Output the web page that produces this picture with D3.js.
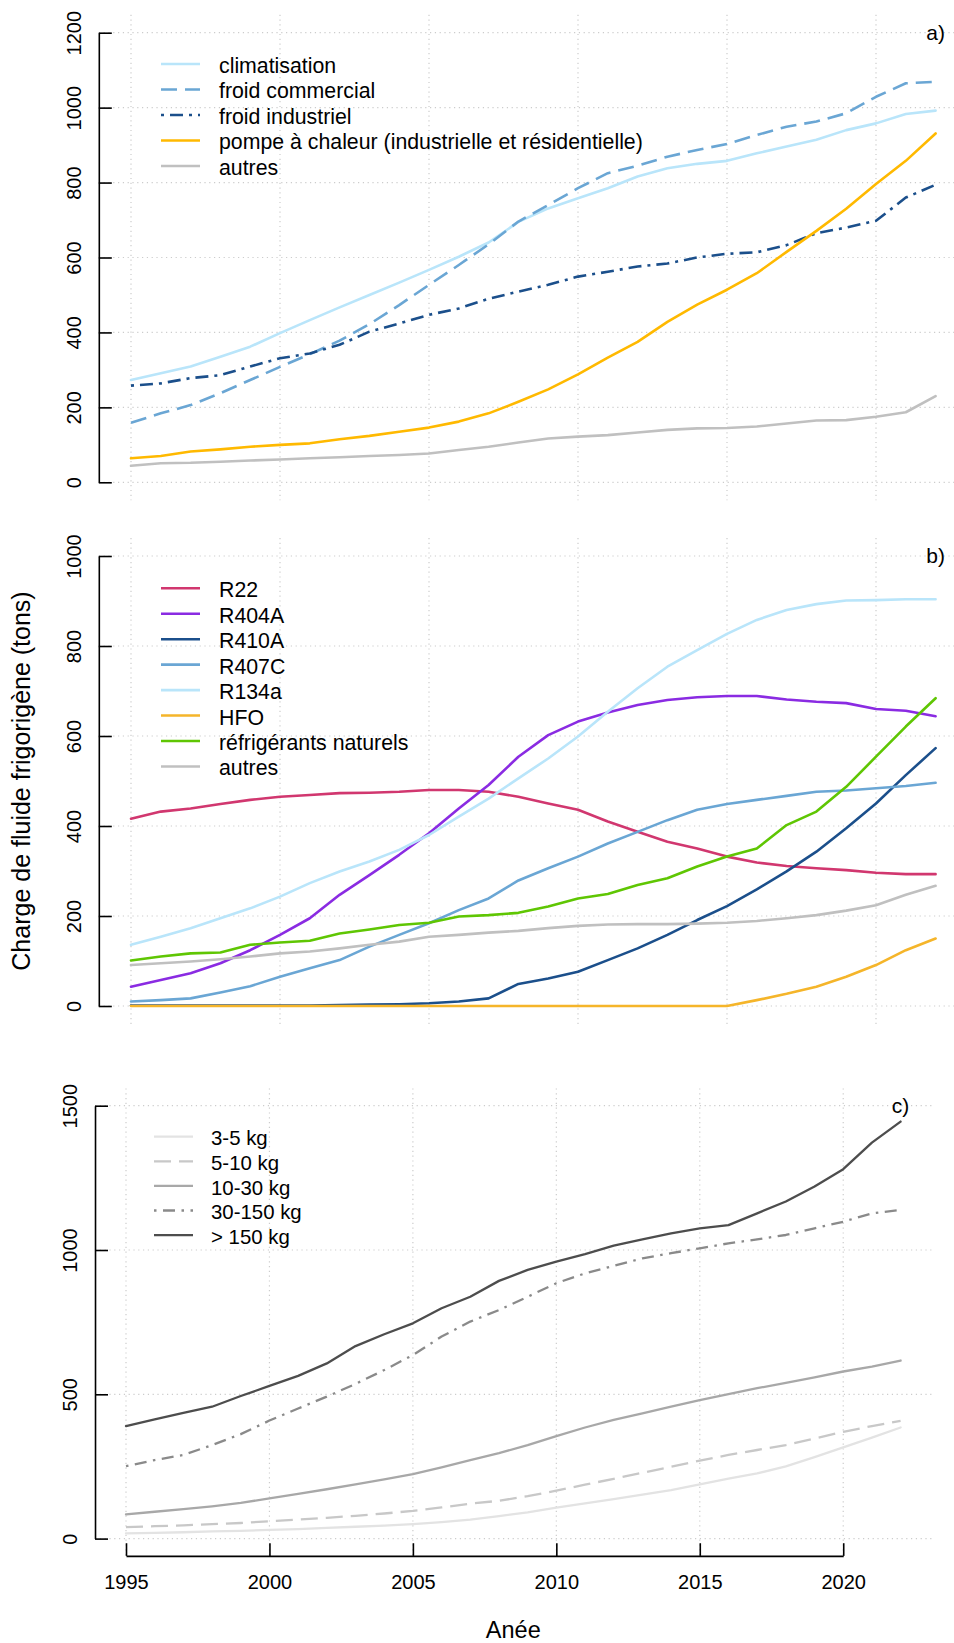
<!DOCTYPE html>
<html>
<head>
<meta charset="utf-8">
<script src="https://cdn.jsdelivr.net/npm/d3@7"></script>
<style>
  body { margin: 0; background: #fff; }
  svg { display: block; }
</style>
</head>
<body>
<div id="chart"></div>
<script>
// years on the x axis
const years = [1995, 1996, 1997, 1998, 1999, 2000, 2001, 2002, 2003, 2004, 2005, 2006, 2007, 2008,
  2009, 2010, 2011, 2012, 2013, 2014, 2015, 2016, 2017, 2018, 2019, 2020, 2021, 2022];

// a) by use
const usageLabels = ["climatisation", "froid commercial", "froid industriel",
  "pompe à chaleur (industrielle et résidentielle)", "autres"];
const climatisation = [273, 291, 309, 335, 362, 398, 433, 467, 500, 533, 567, 602, 640, 695, 731, 758, 785, 816, 838, 850, 858, 878, 896, 914, 940, 958, 983, 992];
const froidCommercial = [159, 184, 206, 238, 273, 308, 342, 378, 422, 473, 527, 580, 635, 696, 740, 785, 825, 845, 869, 887, 903, 927, 949, 963, 985, 1029, 1065, 1069];
const froidIndustriel = [258, 264, 278, 286, 309, 331, 344, 367, 402, 424, 447, 464, 490, 509, 527, 549, 562, 576, 584, 600, 610, 614, 633, 665, 680, 698, 760, 794];
const pompeAChaleur = [64, 70, 82, 88, 95, 100, 104, 115, 124, 135, 146, 162, 184, 215, 248, 288, 333, 375, 428, 474, 514, 558, 615, 671, 730, 796, 858, 931];
const autresUsage = [44, 51, 52, 55, 58, 61, 64, 67, 70, 73, 77, 86, 95, 106, 117, 122, 126, 133, 140, 144, 145, 149, 157, 165, 166, 175, 187, 230];

// b) by refrigerant
const fluideLabels = ["R22", "R404A", "R410A", "R407C", "R134a", "HFO", "réfrigérants naturels", "autres"];
const r22 = [416, 432, 439, 449, 458, 465, 469, 473, 474, 476, 480, 480, 476, 465, 450, 436, 410, 387, 365, 350, 332, 319, 311, 306, 302, 296, 293, 293];
const r404a = [43, 58, 73, 95, 124, 158, 195, 247, 291, 336, 384, 439, 491, 554, 602, 632, 652, 669, 680, 686, 689, 689, 681, 676, 673, 660, 656, 644];
const r410a = [1, 1, 1, 1, 1, 1, 1, 2, 3, 4, 6, 10, 17, 49, 61, 76, 102, 128, 158, 191, 222, 259, 299, 343, 395, 450, 513, 573];
const r407c = [10, 13, 17, 30, 44, 65, 84, 102, 132, 158, 184, 213, 239, 279, 306, 332, 361, 387, 413, 436, 449, 458, 467, 476, 479, 484, 489, 496];
const r134a = [136, 154, 173, 195, 217, 243, 273, 299, 321, 347, 380, 421, 461, 506, 550, 599, 654, 706, 754, 791, 827, 858, 880, 893, 901, 902, 904, 904];
const hfo = [0, 0, 0, 0, 0, 0, 0, 0, 0, 0, 0, 0, 0, 0, 0, 0, 0, 0, 0, 0, 0, 13, 27, 43, 65, 91, 124, 150];
const naturels = [101, 110, 117, 119, 136, 141, 145, 161, 170, 180, 185, 199, 202, 207, 221, 239, 249, 269, 284, 310, 332, 350, 402, 432, 487, 554, 621, 684];
const autresFluide = [91, 95, 99, 104, 110, 117, 121, 128, 136, 143, 154, 158, 163, 167, 173, 178, 181, 182, 182, 183, 185, 189, 195, 202, 212, 224, 247, 267];

// c) by charge size
const chargeLabels = ["3-5 kg", "5-10 kg", "10-30 kg", "30-150 kg", "> 150 kg"];
const charge3to5 = [18, 20, 22, 25, 27, 30, 33, 37, 41, 45, 50, 57, 66, 78, 91, 107, 122, 137, 152, 168, 188, 208, 226, 250, 282, 316, 350, 385];
const charge5to10 = [40, 43, 46, 50, 54, 60, 66, 72, 79, 87, 96, 108, 121, 131, 147, 166, 187, 207, 228, 249, 270, 290, 307, 324, 347, 370, 390, 408];
const charge10to30 = [84, 93, 102, 112, 124, 139, 155, 171, 188, 205, 223, 247, 272, 296, 324, 355, 385, 411, 434, 457, 480, 501, 521, 540, 559, 579, 596, 617];
const charge30to150 = [251, 272, 290, 324, 362, 409, 451, 492, 536, 584, 636, 700, 752, 792, 838, 885, 919, 945, 971, 989, 1006, 1023, 1037, 1052, 1075, 1098, 1127, 1139];
const chargeOver150 = [390, 413, 436, 457, 494, 529, 564, 607, 667, 708, 746, 798, 838, 893, 931, 960, 986, 1015, 1037, 1058, 1075, 1086, 1127, 1168, 1220, 1280, 1372, 1445];

// ticks
const xTicks = [1995, 2000, 2005, 2010, 2015, 2020];
const yTicksA = [0, 200, 400, 600, 800, 1000, 1200];
const yTicksB = [0, 200, 400, 600, 800, 1000];
const yTicksC = [0, 500, 1000, 1500];

const font = '"Liberation Sans", Arial, Helvetica, sans-serif';
const lightBlue = "#b9e5fa", midBlue = "#6aa6d4", darkBlue = "#1b4f8b", grey = "#c0c0c0";

// panel settings
const panels = [
  {
    tag: "a)", labels: usageLabels,
    values: [climatisation, froidCommercial, froidIndustriel, pompeAChaleur, autresUsage],
    colors: [lightBlue, midBlue, darkBlue, "#ffb900", grey],
    dashes: [null, "16,8", "3,6,13,6", null, null],
    yTicks: yTicksA, xRange: [131, 935.6], yRange: [482.3, 32.7], lineWidth: 2.6,
    legend: { x0: 161, x1: 200, tx: 219, y0: 64, dy: 25.5, size: 21.3 },
    xAxis: false
  },
  {
    tag: "b)", labels: fluideLabels,
    values: [r22, r404a, r410a, r407c, r134a, hfo, naturels, autresFluide],
    colors: ["#d1376f", "#8a2be2", darkBlue, midBlue, lightBlue, "#f5b52a", "#5fc603", grey],
    dashes: [null, null, null, null, null, null, null, null],
    yTicks: yTicksB, xRange: [131, 935.6], yRange: [1006, 556], lineWidth: 2.6,
    legend: { x0: 161, x1: 200, tx: 219, y0: 588.3, dy: 25.45, size: 21.3 },
    xAxis: false
  },
  {
    tag: "c)", labels: chargeLabels,
    values: [charge3to5, charge5to10, charge10to30, charge30to150, chargeOver150],
    colors: ["#e3e3e3", "#c8c8c8", "#a8a8a8", "#8a8a8a", "#4d4d4d"],
    dashes: [null, "17,8", null, "2.5,6.5,12,6.5", null],
    yTicks: yTicksC, xRange: [126, 900.6], yRange: [1538.6, 1105.7], lineWidth: 2.3,
    legend: { x0: 154, x1: 193, tx: 211, y0: 1136.7, dy: 24.6, size: 20.4 },
    xAxis: true
  }
];

const svg = d3.select("#chart").append("svg")
  .attr("width", 954)
  .attr("height", 1643)
  .style("font-family", font);

panels.forEach(drawPanel);

// y axis title
svg.append("text")
  .attr("transform", "translate(21.7,781) rotate(-90)")
  .attr("text-anchor", "middle")
  .attr("dy", "0.35em")
  .style("font-size", "25px")
  .text("Charge de fluide frigorigène (tons)");

function drawPanel(p) {
  const first = years[0], last = years[years.length - 1];
  const yMax = p.yTicks[p.yTicks.length - 1];
  const x = d3.scaleLinear().domain([first, last]).range(p.xRange);
  const y = d3.scaleLinear().domain([0, yMax]).range(p.yRange);

  // plot region (4% padding like R)
  const pad = 0.04 * (last - first);
  const left = x(first - pad), right = x(last + pad);
  const top = y(yMax * 1.04), bottom = y(-0.04 * yMax);

  const g = svg.append("g");

  // dotted grid
  const grid = g.append("g")
    .attr("stroke", "#cccccc")
    .attr("stroke-width", 1.2)
    .attr("stroke-dasharray", "1.2,3.6");
  grid.selectAll(".gx").data(xTicks).join("line")
    .attr("x1", (d) => x(d)).attr("x2", (d) => x(d))
    .attr("y1", top).attr("y2", bottom);
  grid.selectAll(".gy").data(p.yTicks).join("line")
    .attr("x1", left).attr("x2", right)
    .attr("y1", (d) => y(d)).attr("y2", (d) => y(d));

  // y axis, ticks pointing inward
  const yAxis = g.append("g")
    .attr("transform", `translate(${left},0)`)
    .call(d3.axisLeft(y).tickValues(p.yTicks).tickFormat(d3.format("d"))
      .tickSize(-13).tickSizeOuter(0));
  yAxis.selectAll("path, line").attr("stroke", "#000").attr("stroke-width", 1.6);
  yAxis.selectAll("text")
    .attr("x", null)
    .attr("dy", "0.35em")
    .attr("transform", "translate(-25,0) rotate(-90)")
    .attr("text-anchor", "middle")
    .attr("fill", "#000")
    .style("font-family", font)
    .style("font-size", "20px");

  // x axis only on the last panel
  if (p.xAxis) {
    const xa = x.copy().domain([xTicks[0], xTicks[xTicks.length - 1]])
      .range([x(xTicks[0]), x(xTicks[xTicks.length - 1])]);
    const xAxis = g.append("g")
      .attr("transform", `translate(0,${bottom})`)
      .call(d3.axisBottom(xa).tickValues(xTicks).tickFormat(d3.format("d"))
        .tickSize(-12.7).tickSizeOuter(0).tickPadding(18.5));
    xAxis.selectAll("path, line").attr("stroke", "#000").attr("stroke-width", 1.6);
    xAxis.selectAll("text")
      .attr("fill", "#000")
      .style("font-family", font)
      .style("font-size", "20px");

    g.append("text")
      .attr("x", (left + right) / 2)
      .attr("y", 1630)
      .attr("dy", "0.35em")
      .attr("text-anchor", "middle")
      .style("font-size", "23.5px")
      .text("Anée");
  }

  // series
  const line = d3.line()
    .x((d, i) => x(years[i]))
    .y((d) => y(d));

  g.append("g")
    .attr("fill", "none")
    .selectAll("path")
    .data(p.values)
    .join("path")
    .attr("d", line)
    .attr("stroke", (d, i) => p.colors[i])
    .attr("stroke-width", p.lineWidth)
    .attr("stroke-linejoin", "round")
    .attr("stroke-linecap", (d, i) => (p.dashes[i] ? "butt" : "round"))
    .attr("stroke-dasharray", (d, i) => p.dashes[i]);

  // legend
  const lg = p.legend;
  const item = g.append("g").selectAll("g").data(p.labels).join("g")
    .attr("transform", (d, i) => `translate(0,${lg.y0 + i * lg.dy})`);
  item.append("line")
    .attr("x1", lg.x0).attr("x2", lg.x1)
    .attr("stroke", (d, i) => p.colors[i])
    .attr("stroke-width", p.lineWidth)
    .attr("stroke-dasharray", (d, i) => p.dashes[i]);
  item.append("text")
    .attr("x", lg.tx)
    .attr("y", 1.5)
    .attr("dy", "0.35em")
    .style("font-size", lg.size + "px")
    .text((d) => d);

  // panel tag
  g.append("text")
    .attr("x", x(last))
    .attr("y", y(yMax))
    .attr("dy", "0.35em")
    .attr("text-anchor", "middle")
    .style("font-size", "21px")
    .text(p.tag);
}
</script>
</body>
</html>
